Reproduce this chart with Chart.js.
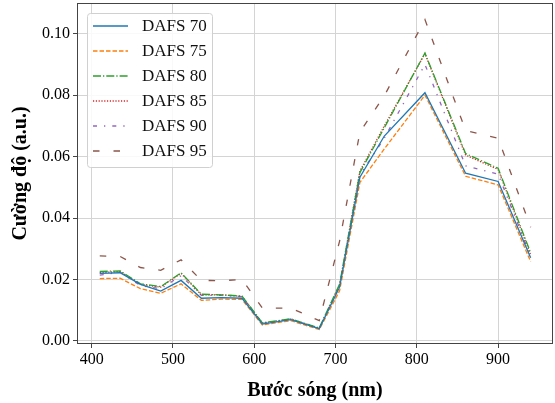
<!DOCTYPE html>
<html>
<head>
<meta charset="utf-8">
<script src="https://cdn.jsdelivr.net/npm/chart.js@4"></script>
<style>
  html, body { margin: 0; padding: 0; background: #fff; }
  canvas { display: block; }
</style>
</head>
<body>
<canvas id="spectrumChart" width="555" height="403"></canvas>
<script>
// Bước sóng (nm) - kênh đo
const wavelengths = [410, 435, 460, 485, 510, 535, 560, 585, 610, 645, 680, 705, 730, 760, 810, 860, 900, 940];

// Cường độ theo từng mẫu
const dafs70 = [0.0220, 0.0222, 0.0184, 0.0162, 0.0197, 0.0139, 0.0141, 0.0139, 0.0055, 0.0069, 0.0040, 0.0175, 0.0533, 0.0667, 0.0808, 0.0546, 0.0519, 0.0271];
const dafs75 = [0.0203, 0.0204, 0.0170, 0.0155, 0.0186, 0.0132, 0.0136, 0.0135, 0.0052, 0.0066, 0.0037, 0.0163, 0.0516, 0.0625, 0.0800, 0.0536, 0.0508, 0.0258];
const dafs80 = [0.0226, 0.0228, 0.0186, 0.0177, 0.0222, 0.0152, 0.0150, 0.0146, 0.0059, 0.0072, 0.0042, 0.0185, 0.0548, 0.0694, 0.0937, 0.0610, 0.0562, 0.0287];
const dafs85 = [0.0222, 0.0226, 0.0184, 0.0175, 0.0220, 0.0150, 0.0150, 0.0145, 0.0058, 0.0071, 0.0041, 0.0182, 0.0553, 0.0700, 0.0935, 0.0605, 0.0558, 0.0280];
const dafs90 = [0.0214, 0.0224, 0.0180, 0.0170, 0.0212, 0.0148, 0.0148, 0.0144, 0.0057, 0.0070, 0.0041, 0.0180, 0.0540, 0.0660, 0.0900, 0.0570, 0.0543, 0.0275];
const dafs95 = [0.0277, 0.0275, 0.0239, 0.0230, 0.0264, 0.0197, 0.0196, 0.0200, 0.0107, 0.0107, 0.0066, 0.0325, 0.0680, 0.0798, 0.1046, 0.0685, 0.0660, 0.0370];

const seriesLabels = ['DAFS 70', 'DAFS 75', 'DAFS 80', 'DAFS 85', 'DAFS 90', 'DAFS 95'];

// Nhãn trục
const xTicks = [400, 500, 600, 700, 800, 900];
const yTicks = [0.00, 0.02, 0.04, 0.06, 0.08, 0.10];

const FONT = '"Liberation Serif", "Times New Roman", serif';
Chart.defaults.font.family = FONT;
Chart.defaults.color = '#000';

const seriesValues = [dafs70, dafs75, dafs80, dafs85, dafs90, dafs95];
const colors = ['#1f77b4', '#ff7f0e', '#2ca02c', '#d62728', '#9467bd', '#8c564b'];
const dashes = [[], [4.5, 2], [8, 2, 1.3, 2], [1.2, 1.6], [4, 7, 1.3, 7], [6.5, 14]];

const datasets = seriesValues.map((vals, i) => ({
  label: seriesLabels[i],
  data: wavelengths.map((w, j) => ({ x: w, y: vals[j] })),
  borderColor: colors[i],
  borderDash: dashes[i],
  borderWidth: 1.3,
  pointRadius: 0,
  tension: 0,
  fill: false
}));

/**
 * Khung viền và chú giải (kiểu matplotlib)
 */
const frameLegend = {
  id: 'frameLegend',
  afterDatasetsDraw(chart) {
    const ctx = chart.ctx;
    const a = chart.chartArea;

    // khung trục
    ctx.save();
    ctx.strokeStyle = '#444';
    ctx.lineWidth = 1;
    ctx.strokeRect(Math.round(a.left) + 0.5, Math.round(a.top) + 0.5,
      Math.round(a.right - a.left) - 1, Math.round(a.bottom - a.top) - 1);

    // hộp chú giải
    const bx = 87, by = 13, bw = 125, bh = 154;
    ctx.beginPath();
    ctx.roundRect(bx + 0.5, by + 0.5, bw, bh, 3);
    ctx.fillStyle = 'rgba(255,255,255,0.85)';
    ctx.fill();
    ctx.strokeStyle = '#d0d0d0';
    ctx.stroke();

    ctx.font = '17px ' + FONT;
    ctx.textBaseline = 'middle';
    ctx.textAlign = 'left';
    chart.data.datasets.forEach((ds, i) => {
      const yc = 26 + i * 25;
      ctx.beginPath();
      ctx.setLineDash(ds.borderDash);
      ctx.strokeStyle = ds.borderColor;
      ctx.lineWidth = ds.borderWidth;
      ctx.moveTo(93, yc);
      ctx.lineTo(128, yc);
      ctx.stroke();
      ctx.setLineDash([]);
      ctx.fillStyle = '#111';
      ctx.fillText(ds.label, 142, yc + 1);
    });
    ctx.restore();
  }
};

new Chart(document.getElementById('spectrumChart'), {
  type: 'line',
  data: { datasets },
  options: {
    responsive: false,
    animation: false,
    devicePixelRatio: 1,
    layout: { padding: { top: 3, right: 2, left: 0, bottom: 0 } },
    plugins: {
      legend: { display: false },
      tooltip: { enabled: false }
    },
    scales: {
      x: {
        type: 'linear',
        min: 382,
        max: 967.5,
        afterFit: s => {
          s.height = 59;
          s.paddingLeft = 0;
          s.paddingRight = 0;
        },
        afterBuildTicks: s => { s.ticks = xTicks.map(v => ({ value: v })); },
        grid: { color: '#d4d4d4', lineWidth: 1, tickColor: '#444', tickLength: 4 },
        border: { display: false },
        ticks: { font: { size: 16 }, color: '#000', padding: 2, maxRotation: 0 },
        title: {
          display: true,
          text: 'Bước sóng (nm)',
          font: { size: 20, weight: 'bold' },
          color: '#000',
          padding: { top: 7, bottom: 0 }
        }
      },
      y: {
        min: -0.001,
        max: 0.110,
        afterFit: s => {
          s.width = 77;
          s.paddingTop = 0;
          s.paddingBottom = 0;
        },
        afterBuildTicks: s => { s.ticks = yTicks.map(v => ({ value: v })); },
        grid: { color: '#d4d4d4', lineWidth: 1, tickColor: '#444', tickLength: 4 },
        border: { display: false },
        ticks: {
          font: { size: 16 },
          color: '#000',
          padding: 3,
          callback: v => v.toFixed(2)
        },
        title: {
          display: true,
          text: 'Cường độ (a.u.)',
          font: { size: 20, weight: 'bold' },
          color: '#000',
          padding: { top: 9, bottom: 0 }
        }
      }
    }
  },
  plugins: [frameLegend]
});
</script>
</body>
</html>
